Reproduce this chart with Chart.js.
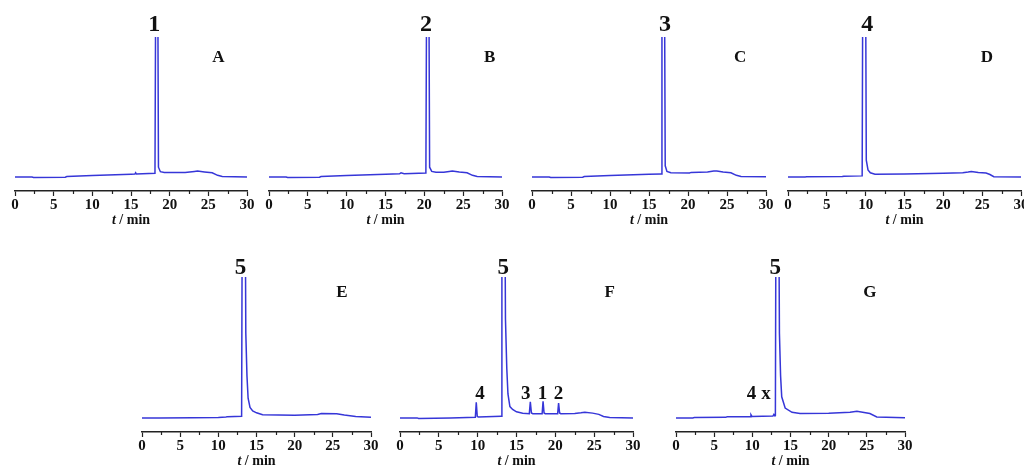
<!DOCTYPE html>
<html>
<head>
<meta charset="utf-8">
<script src="https://cdn.jsdelivr.net/npm/chart.js@4"></script>
<style>
  html, body { margin: 0; padding: 0; background: #fff; overflow: hidden; width: 1024px; height: 466px; }
  canvas { position: absolute; }
</style>
</head>
<body>
<canvas id="cA" width="260" height="231" style="left:1px;top:0"></canvas>
<canvas id="cB" width="261" height="231" style="left:255px;top:0"></canvas>
<canvas id="cC" width="262" height="231" style="left:518px;top:0"></canvas>
<canvas id="cD" width="261" height="231" style="left:774px;top:0"></canvas>
<canvas id="cE" width="257" height="232" style="left:128px;top:240px"></canvas>
<canvas id="cF" width="261" height="232" style="left:386px;top:240px"></canvas>
<canvas id="cG" width="257" height="232" style="left:662px;top:240px"></canvas>
<script>
// Chromatogrammes : temps (min) et signal relatif
const tA = [0, 2.2, 2.4, 6.5, 6.7, 10, 15, 15.5, 15.6, 15.7, 18.1, 18.24, 18.42, 18.55, 18.8, 19.3, 22, 23.2, 23.6, 24.5, 25.5, 26.2, 26.8, 30];
const yA = [0, 0, -0.004, -0.002, 0.003, 0.01, 0.02, 0.021, 0.03, 0.021, 0.026, 2, 2, 0.07, 0.038, 0.032, 0.032, 0.04, 0.042, 0.036, 0.03, 0.012, 0.004, 0];

const tB = [0, 2.2, 2.4, 6.5, 6.7, 10, 15, 16.8, 17.0, 17.4, 20.2, 20.34, 20.54, 20.68, 20.95, 21.5, 22.5, 23.2, 23.6, 24.5, 25.5, 26.2, 26.8, 30];
const yB = [0, 0, -0.004, -0.002, 0.003, 0.01, 0.02, 0.023, 0.03, 0.024, 0.028, 2, 2, 0.07, 0.04, 0.034, 0.034, 0.04, 0.043, 0.036, 0.03, 0.012, 0.004, 0];

const tC = [0, 2.2, 2.4, 6.5, 6.7, 10, 15, 16.55, 16.66, 16.94, 17.08, 17.3, 17.8, 20.2, 20.4, 22.5, 23.3, 23.7, 24.5, 25.5, 26.2, 26.8, 30];
const yC = [0, 0, -0.004, -0.002, 0.003, 0.01, 0.019, 0.022, 2, 2, 0.08, 0.04, 0.03, 0.029, 0.033, 0.036, 0.042, 0.043, 0.036, 0.03, 0.012, 0.004, 0.002];

const tD = [0, 2.2, 2.4, 7, 7.2, 9.55, 9.66, 9.95, 10.08, 10.3, 10.6, 11.2, 15, 20, 22.5, 23.2, 23.6, 24.5, 25.5, 26.0, 26.5, 30];
const yD = [0, 0, 0.001, 0.003, 0.006, 0.008, 2, 2, 0.12, 0.05, 0.03, 0.02, 0.021, 0.026, 0.03, 0.035, 0.04, 0.032, 0.028, 0.018, 0.002, 0];

const tE = [0, 2.3, 6.6, 10, 11, 11.2, 13.05, 13.16, 13.48, 13.6, 13.75, 13.9, 14.15, 14.5, 15.0, 15.8, 20, 23, 23.5, 25.5, 26.5, 28, 30];
const yE = [0, 0, 0.001, 0.003, 0.006, 0.009, 0.012, 2, 2, 0.6, 0.3, 0.14, 0.075, 0.05, 0.036, 0.022, 0.019, 0.024, 0.031, 0.03, 0.02, 0.01, 0.004];

const tF = [0, 2.2, 2.4, 6.5, 9.7, 9.82, 9.95, 10.1, 13.02, 13.12, 13.46, 13.58, 13.75, 13.9, 14.15, 14.5, 15.0, 15.8, 16.65, 16.78, 16.92, 17.1, 18.3, 18.42, 18.55, 18.7, 20.3, 20.42, 20.55, 20.7, 22.5, 23.3, 23.8, 24.8, 25.6, 26.2, 27, 30];
const yF = [0, 0, -0.004, 0.0, 0.005, 0.11, 0.01, 0.006, 0.012, 2, 2, 0.7, 0.35, 0.17, 0.08, 0.06, 0.043, 0.033, 0.03, 0.115, 0.035, 0.03, 0.03, 0.118, 0.035, 0.03, 0.03, 0.105, 0.035, 0.03, 0.031, 0.036, 0.04, 0.034, 0.025, 0.01, 0.003, 0];

const tG = [0, 2.2, 2.4, 6.5, 6.7, 9.7, 9.82, 9.95, 12.7, 12.82, 12.95, 13.02, 13.12, 13.42, 13.55, 13.7, 13.85, 14.3, 15.2, 16.25, 20, 22.8, 23.7, 25.4, 26.3, 30];
const yG = [0, 0, 0.003, 0.004, 0.008, 0.009, 0.022, 0.01, 0.013, 0.025, 0.014, 0.015, 2, 2, 0.6, 0.3, 0.15, 0.07, 0.04, 0.031, 0.033, 0.04, 0.048, 0.031, 0.007, 0.002];

// étiquettes des pics (texte, position en minutes)
const peaksA = ['1'], peaksAAt = [18.0];
const peaksB = ['2'], peaksBAt = [20.2];
const peaksC = ['3'], peaksCAt = [17.05];
const peaksD = ['4'], peaksDAt = [10.2];
const peaksE = ['5'], peaksEAt = [12.9];
const peaksF = ['5', '4', '3', '1', '2'], peaksFAt = [13.3, 10.3, 16.2, 18.36, 20.4];
const peaksG = ['5', '4', 'x'], peaksGAt = [13.0, 9.9, 11.8];

const xTicks = [0, 5, 10, 15, 20, 25, 30];
const serif = '"Liberation Serif", "Times New Roman", serif';

const decor = {
    id: 'decor',
    afterDraw(chart, args, o) {
        const { ctx, chartArea } = chart;
        const xs = chart.scales.x, ys = chart.scales.y;
        ctx.save();
        // petites graduations
        ctx.strokeStyle = '#222';
        ctx.lineWidth = 1.2;
        for (let v = 2.5; v < 30; v += 5) {
            const px = Math.round(xs.getPixelForValue(v)) + 0.5;
            ctx.beginPath();
            ctx.moveTo(px, chartArea.bottom);
            ctx.lineTo(px, chartArea.bottom + 3);
            ctx.stroke();
        }
        ctx.fillStyle = '#111';
        ctx.textAlign = 'center';
        ctx.textBaseline = 'middle';
        o.labels.forEach(l => {
            ctx.font = 'bold ' + l.size + 'px ' + serif;
            ctx.fillText(l.text, xs.getPixelForValue(l.x), ys.getPixelForValue(l.y));
        });
        // titre de l'axe : t / min
        ctx.font = 'italic bold 14px ' + serif;
        const w1 = ctx.measureText('t').width;
        ctx.font = 'bold 14px ' + serif;
        const w2 = ctx.measureText(' / min').width;
        const cx = (chartArea.left + chartArea.right) / 2;
        const x0 = cx - (w1 + w2) / 2;
        const ty = chartArea.bottom + 29;
        ctx.textAlign = 'left';
        ctx.font = 'italic bold 14px ' + serif;
        ctx.fillText('t', x0, ty);
        ctx.font = 'bold 14px ' + serif;
        ctx.fillText(' / min', x0 + w1, ty);
        ctx.restore();
    }
};

function makeChart(id, t, y, peaks, peaksAt, letter, letterX, row2) {
    const labels = peaks.map((p, i) => ({
        text: p,
        x: peaksAt[i],
        y: (row2 && i > 0) ? 0.17 : (row2 ? 1.06 : 1.09),
        size: (row2 && i > 0) ? 19 : (row2 ? 23 : 24)
    }));
    labels.push({ text: letter, x: letterX, y: row2 ? 0.89 : 0.85, size: 17 });

    return new Chart(document.getElementById(id).getContext('2d'), {
        type: 'line',
        data: {
            datasets: [{
                data: t.map((v, i) => ({ x: v, y: y[i] })),
                borderColor: '#3636d8',
                borderWidth: 1.5,
                pointRadius: 0,
                tension: 0,
                fill: false
            }]
        },
        options: {
            responsive: false,
            animation: false,
            layout: { padding: { left: 14, right: 14, top: 37, bottom: 0 } },
            scales: {
                x: {
                    type: 'linear',
                    min: 0,
                    max: 30,
                    afterBuildTicks(s) { s.ticks = xTicks.map(v => ({ value: v })); },
                    ticks: {
                        color: '#111',
                        font: { family: serif, size: 15, weight: 'bold' },
                        padding: 0,
                        maxRotation: 0,
                        autoSkip: false
                    },
                    grid: { display: true, drawOnChartArea: false, drawTicks: true, tickLength: 5, tickColor: '#222', tickWidth: 1.2 },
                    border: { display: true, color: '#222', width: 1.5 },
                    afterFit(s) { s.height = 40; }
                },
                y: { display: false, min: -0.1, max: 1.0 }
            },
            plugins: {
                legend: { display: false },
                tooltip: { enabled: false },
                decor: { labels: labels }
            }
        },
        plugins: [decor]
    });
}

makeChart('cA', tA, yA, peaksA, peaksAAt, 'A', 26.3, false);
makeChart('cB', tB, yB, peaksB, peaksBAt, 'B', 28.4, false);
makeChart('cC', tC, yC, peaksC, peaksCAt, 'C', 26.7, false);
makeChart('cD', tD, yD, peaksD, peaksDAt, 'D', 25.6, false);
makeChart('cE', tE, yE, peaksE, peaksEAt, 'E', 26.2, true);
makeChart('cF', tF, yF, peaksF, peaksFAt, 'F', 27.0, true);
makeChart('cG', tG, yG, peaksG, peaksGAt, 'G', 25.4, true);
</script>
</body>
</html>
